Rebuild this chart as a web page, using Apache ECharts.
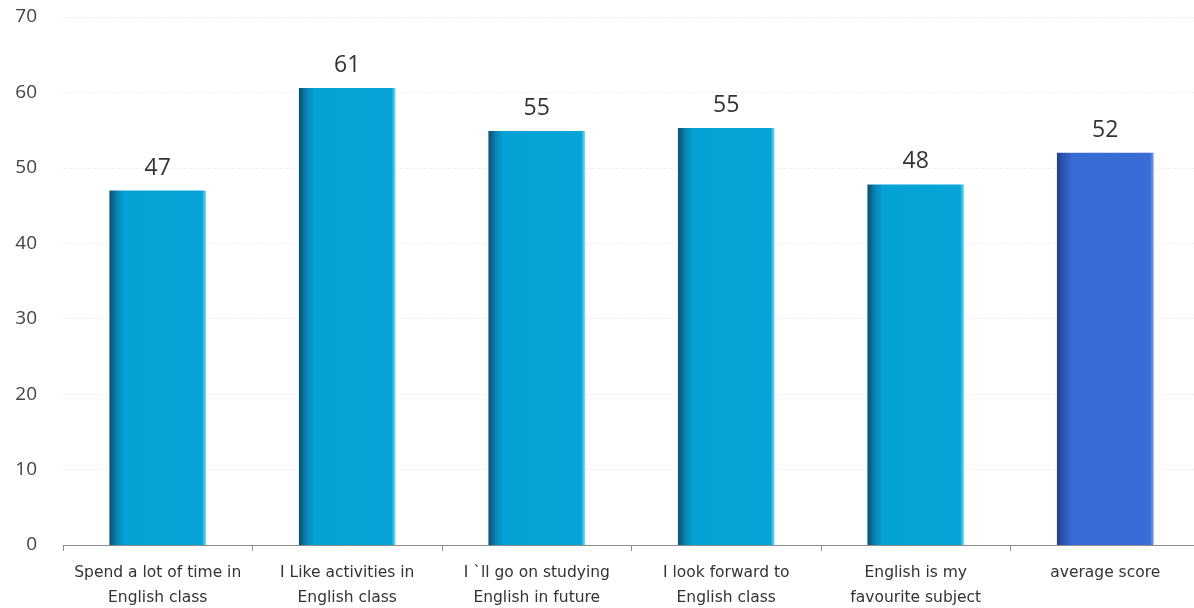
<!DOCTYPE html>
<html>
<head>
<meta charset="utf-8">
<script src="https://cdn.jsdelivr.net/npm/echarts@6/dist/echarts.min.js"></script>
<style>html,body{margin:0;padding:0;background:#fff;}#c{width:1194px;height:608px;}</style>
</head>
<body>
<div id="c"></div>
<script>
const categories = ["Spend a lot of time in\nEnglish class", "I Like activities in\nEnglish class", "I `ll go on studying\nEnglish in future", "I look forward to\nEnglish class", "English is my\nfavourite subject", "average score"];
const values = [47, 60.6, 54.9, 55.3, 47.8, 52];
const yTicks = [0, 10, 20, 30, 40, 50, 60, 70];

const cyanGrad = new echarts.graphic.LinearGradient(0, 0, 1, 0, [
  {offset: 0, color: '#0b4f6c'},
  {offset: 0.08, color: '#0a86b5'},
  {offset: 0.16, color: '#06a2d6'},
  {offset: 0.96, color: '#06a4d8'},
  {offset: 1, color: '#7fe0f5'}
]);
const blueGrad = new echarts.graphic.LinearGradient(0, 0, 1, 0, [
  {offset: 0, color: '#1f3f8c'},
  {offset: 0.08, color: '#2e58b8'},
  {offset: 0.16, color: '#376bd6'},
  {offset: 0.96, color: '#386dd8'},
  {offset: 1, color: '#6d97ec'}
]);

const chart = echarts.init(document.getElementById('c'));
chart.setOption({
  animation: false,
  grid: {left: 63, right: -6, top: 17, bottom: 63, outerBoundsMode: 'none', containLabel: false},
  xAxis: {
    type: 'category',
    data: categories,
    axisLine: {lineStyle: {color: '#8c8c8c', width: 1}},
    axisTick: {show: true, length: 6, lineStyle: {color: '#8c8c8c'}},
    axisLabel: {fontFamily: 'DejaVu Sans', fontSize: 15.5, color: '#333', lineHeight: 25, margin: 15, interval: 0}
  },
  yAxis: {
    type: 'value',
    min: yTicks[0], max: yTicks[yTicks.length - 1], interval: 10,
    axisLine: {show: false},
    axisTick: {show: false},
    axisLabel: {fontFamily: 'Open Sans', fontSize: 19, color: '#444', margin: 26},
    splitLine: {lineStyle: {color: '#f0f0f0', type: 'dashed', width: 1}}
  },
  series: [{
    type: 'bar',
    barWidth: '51%',
    data: values.map((v, i) => ({
      value: v,
      itemStyle: {color: i === values.length - 1 ? blueGrad : cyanGrad}
    })),
    label: {
      show: true, position: 'top', distance: 11,
      formatter: p => Math.round(p.value),
      fontFamily: 'Open Sans', fontSize: 23, color: '#333'
    }
  }]
});
</script>
</body>
</html>
